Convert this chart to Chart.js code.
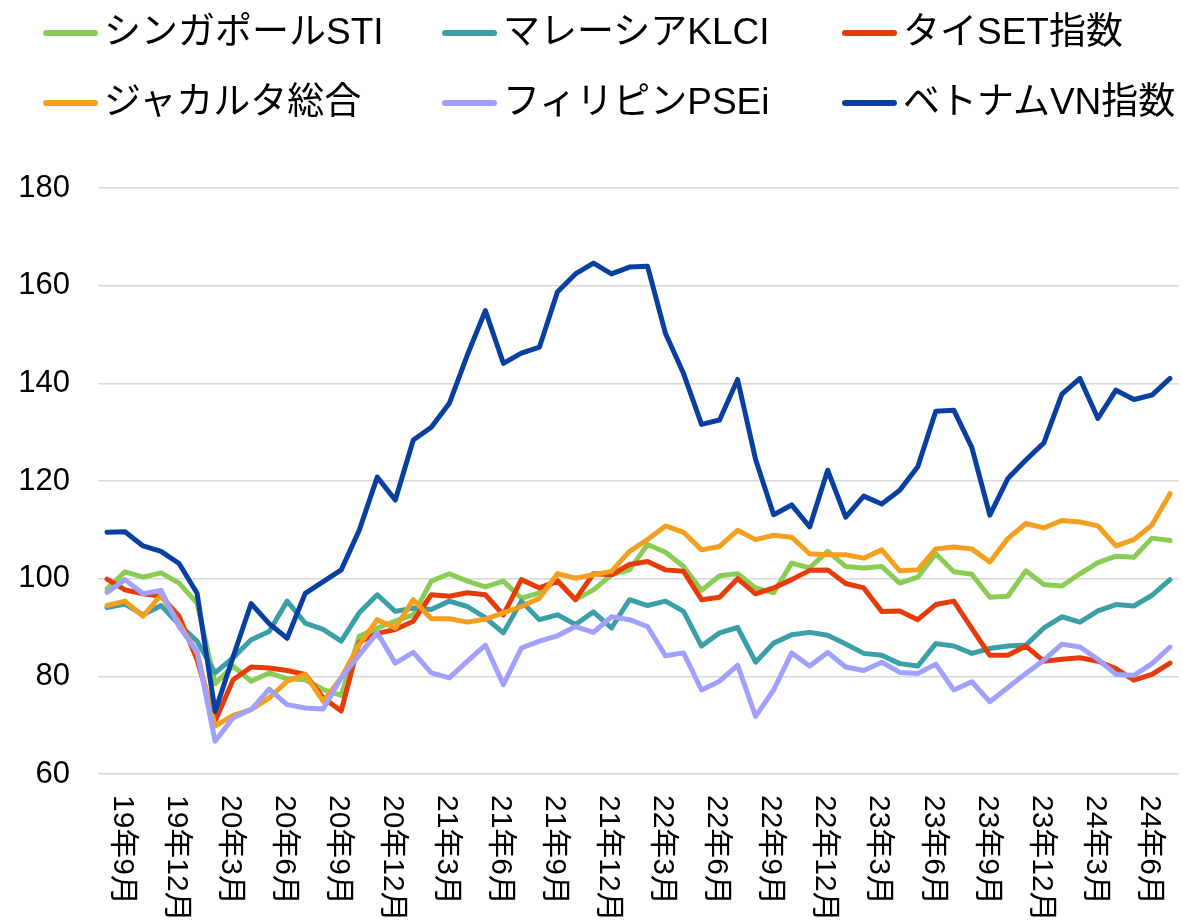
<!DOCTYPE html>
<html lang="ja">
<head>
<meta charset="utf-8">
<script src="https://cdn.jsdelivr.net/npm/chart.js@4.4.1/dist/chart.umd.min.js"></script>
<style>
    html, body { margin: 0; padding: 0; background: #fff; }
    #wrap { position: relative; width: 1183px; height: 923px; }
    #legend { position: absolute; left: 0; top: 0; width: 1183px; height: 140px;
        font-family: 'Liberation Sans', Arial, 'Noto Sans CJK JP', sans-serif; font-size: 37px; color: #000; }
    .swatch { position: absolute; width: 55px; height: 6px; border-radius: 3px; }
    .name { position: absolute; line-height: 37px; white-space: nowrap; }
    canvas { position: absolute; left: 0; top: 0; }
</style>
</head>
<body>
<div id="wrap">
    <canvas id="myChart" width="1183" height="923"></canvas>
    <div id="legend"></div>
</div>
<script>
const months = [
    '19年8月', '19年9月', '19年10月', '19年11月', '19年12月',
    '20年1月', '20年2月', '20年3月', '20年4月', '20年5月', '20年6月', '20年7月', '20年8月', '20年9月', '20年10月', '20年11月', '20年12月',
    '21年1月', '21年2月', '21年3月', '21年4月', '21年5月', '21年6月', '21年7月', '21年8月', '21年9月', '21年10月', '21年11月', '21年12月',
    '22年1月', '22年2月', '22年3月', '22年4月', '22年5月', '22年6月', '22年7月', '22年8月', '22年9月', '22年10月', '22年11月', '22年12月',
    '23年1月', '23年2月', '23年3月', '23年4月', '23年5月', '23年6月', '23年7月', '23年8月', '23年9月', '23年10月', '23年11月', '23年12月',
    '24年1月', '24年2月', '24年3月', '24年4月', '24年5月', '24年6月', '24年7月'
]
const shownTicks = ['19年9月', '19年12月', '20年3月', '20年6月', '20年9月', '20年12月', '21年3月', '21年6月', '21年9月', '21年12月',
    '22年3月', '22年6月', '22年9月', '22年12月', '23年3月', '23年6月', '23年9月', '23年12月', '24年3月', '24年6月']
const yTicks = [60, 80, 100, 120, 140, 160, 180]

const singapore = [97.9, 101.4, 100.3, 101.2, 99.1, 95.0, 78.5, 82.1, 79.0, 80.7, 79.5, 79.3, 77.3, 76.1, 88.2, 89.9, 91.3, 92.6, 99.5, 101.0,
    99.5, 98.3, 99.5, 96.0, 97.1, 99.8, 95.7, 97.7, 100.8, 101.8, 107.0, 105.4, 102.5, 97.6, 100.6, 101.0, 98.1, 97.1, 103.2, 102.2,
    105.6, 102.5, 102.2, 102.5, 99.1, 100.3, 105.1, 101.4, 100.9, 96.2, 96.4, 101.6, 98.8, 98.5, 101.0, 103.3, 104.6, 104.4, 108.3, 107.8]
const malaysia = [94.1, 94.8, 92.6, 94.5, 90.6, 87.2, 80.7, 83.8, 87.5, 89.2, 95.4, 90.9, 89.6, 87.2, 93.0, 96.7, 93.3, 94.0, 93.7, 95.4,
    94.3, 92.0, 88.9, 95.4, 91.6, 92.6, 90.6, 93.2, 89.9, 95.7, 94.5, 95.4, 93.3, 86.2, 88.9, 90.0, 82.9, 86.8, 88.5, 89.0,
    88.4, 86.6, 84.7, 84.3, 82.6, 82.1, 86.7, 86.2, 84.7, 85.7, 86.2, 86.4, 89.9, 92.2, 91.1, 93.4, 94.7, 94.4, 96.6, 99.8]
const thailand = [99.9, 97.7, 96.9, 96.4, 92.3, 83.4, 70.8, 79.3, 81.9, 81.7, 81.2, 80.4, 75.6, 72.9, 87.0, 88.8, 89.6, 91.3, 96.7, 96.4,
    97.1, 96.7, 92.6, 99.8, 98.1, 99.5, 95.7, 101.0, 100.8, 102.9, 103.5, 101.8, 101.5, 95.7, 96.2, 100.0, 96.9, 98.1, 99.8, 101.7,
    101.8, 99.0, 98.1, 93.3, 93.4, 91.6, 94.7, 95.4, 89.8, 84.3, 84.3, 86.2, 83.1, 83.5, 83.8, 83.1, 81.6, 79.2, 80.4, 82.7]
const jakarta = [94.5, 95.4, 92.3, 96.7, 90.9, 84.8, 69.8, 72.0, 73.2, 75.6, 79.0, 80.4, 74.9, 79.7, 86.5, 91.6, 89.9, 95.7, 91.8, 91.8,
    91.1, 91.7, 93.0, 94.3, 96.0, 101.0, 100.1, 100.8, 101.5, 105.6, 108.0, 110.8, 109.5, 105.9, 106.6, 109.9, 108.0, 108.9, 108.5, 105.1,
    104.9, 104.9, 104.2, 105.9, 101.6, 101.8, 106.1, 106.5, 106.1, 103.4, 108.2, 111.3, 110.4, 111.9, 111.6, 110.8, 106.7, 108.0, 111.0, 117.4]
const philippines = [97.2, 99.8, 96.9, 97.6, 90.2, 85.1, 66.7, 71.5, 73.2, 77.4, 74.2, 73.5, 73.3, 79.7, 84.4, 88.9, 82.7, 84.9, 80.7, 79.7,
    83.1, 86.4, 78.3, 85.8, 87.2, 88.3, 90.2, 89.0, 92.2, 91.6, 90.2, 84.2, 84.8, 77.2, 79.0, 82.3, 71.8, 77.2, 84.8, 82.1,
    84.9, 81.9, 81.2, 82.9, 80.8, 80.6, 82.5, 77.2, 78.9, 74.8, 77.7, 80.6, 83.3, 86.6, 86.0, 83.5, 80.4, 80.2, 82.6, 86.0]
const vietnam = [109.5, 109.6, 106.7, 105.6, 103.1, 97.0, 72.8, 84.0, 94.9, 90.8, 87.8, 97.0, 99.4, 101.8, 109.9, 120.8, 116.1, 128.4, 131.0, 135.9,
    145.8, 154.9, 144.1, 146.2, 147.4, 158.7, 162.4, 164.6, 162.4, 163.8, 164.0, 150.2, 142.0, 131.6, 132.5, 140.8, 124.4, 113.1, 115.1, 110.6,
    122.2, 112.6, 116.9, 115.3, 118.1, 122.9, 134.3, 134.5, 126.9, 113.0, 120.5, 124.3, 127.8, 137.8, 141.0, 132.8, 138.6, 136.7, 137.6, 141.0]

const seriesNames = ['シンガポールSTI', 'マレーシアKLCI', 'タイSET指数', 'ジャカルタ総合', 'フィリピンPSEi', 'ベトナムVN指数']
const seriesData = [singapore, malaysia, thailand, jakarta, philippines, vietnam]
const seriesColors = ['#8acd55', '#3a9fa7', '#e63b0b', '#f59f1f', '#a0a0ff', '#0a3fa2']

const fontFamily = "'Liberation Sans', Arial, 'Noto Sans CJK JP', sans-serif"

// legend, 3 columns x 2 rows like the original
const legendBox = document.querySelector('#legend')
const colX = [43, 442, 842]
const rowY = [33, 103]
seriesNames.forEach((name, i) => {
    const x = colX[i % 3]
    const y = rowY[Math.floor(i / 3)]
    const sw = document.createElement('div')
    sw.className = 'swatch'
    sw.style.left = x + 'px'
    sw.style.top = (y - 3) + 'px'
    sw.style.background = seriesColors[i]
    legendBox.appendChild(sw)
    const txt = document.createElement('div')
    txt.className = 'name'
    txt.style.left = (x + 61) + 'px'
    txt.style.top = (y - 20) + 'px'
    txt.textContent = name
    legendBox.appendChild(txt)
})

// x labels run top to bottom, so draw them ourselves
const verticalLabels = {
    id: 'verticalLabels',
    afterDraw(chart) {
        const ctx = chart.ctx
        const xScale = chart.scales.x
        ctx.save()
        ctx.font = '30px ' + fontFamily
        ctx.fillStyle = '#000'
        ctx.textAlign = 'left'
        ctx.textBaseline = 'middle'
        months.forEach((m, i) => {
            if (!shownTicks.includes(m)) return
            ctx.save()
            ctx.translate(xScale.getPixelForValue(i) - 3, chart.chartArea.bottom + 21)
            ctx.rotate(Math.PI / 2)
            ctx.fillText(m, 0, 0)
            ctx.restore()
        })
        ctx.restore()
    }
}

let ctx = document.querySelector('#myChart').getContext('2d')

let myChart = new Chart(ctx, {
    type: 'line',
    data: {
        labels: months,
        datasets: seriesNames.map((name, i) => ({
            label: name,
            data: seriesData[i],
            borderColor: seriesColors[i],
            backgroundColor: seriesColors[i],
            order: seriesNames.length - i
        }))
    },
    options: {
        responsive: false,
        animation: false,
        layout: { padding: { top: 188, right: 4, left: 0, bottom: 0 } },
        elements: {
            point: { radius: 0 },
            line: { tension: 0, borderWidth: 5, borderCapStyle: 'round', borderJoinStyle: 'round' }
        },
        plugins: {
            legend: { display: false },
            tooltip: { enabled: false }
        },
        scales: {
            x: {
                offset: true,
                grid: { display: false },
                border: { display: false },
                ticks: { display: false },
                afterFit: s => { s.height = 149 }
            },
            y: {
                min: yTicks[0],
                max: yTicks[yTicks.length - 1],
                afterBuildTicks: s => { s.ticks = yTicks.map(v => ({ value: v })) },
                ticks: { padding: 28, color: '#000', font: { size: 31, family: fontFamily } },
                grid: { color: '#d9d9d9', lineWidth: 1.5, drawTicks: false },
                border: { display: false },
                afterFit: s => { s.width = 98 }
            }
        }
    },
    plugins: [verticalLabels]
});
</script>
</body>
</html>
